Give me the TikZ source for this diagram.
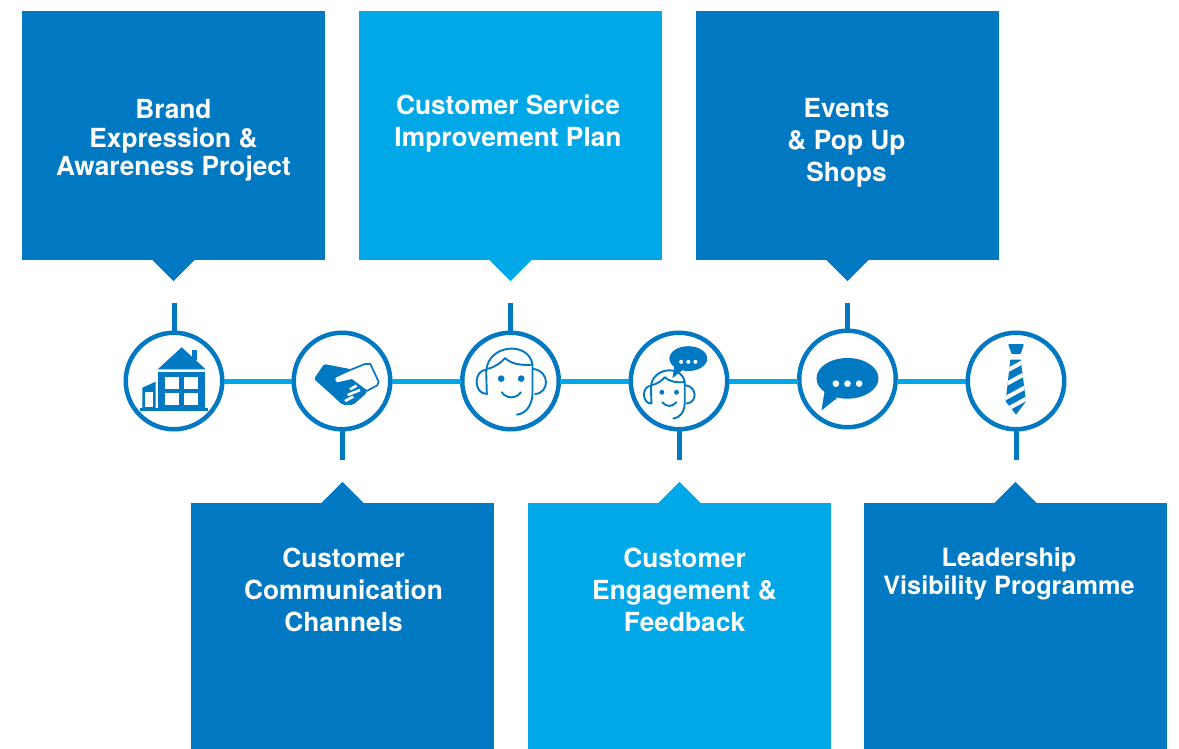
\documentclass[tikz,border=0pt]{standalone}
\usepackage{fontspec}
\setmainfont{TeX Gyre Heros}
\definecolor{DarkBlue}{HTML}{0079C2}
\definecolor{LightBlue}{HTML}{00A8E8}

\begin{document}
\begin{tikzpicture}[
          % Environment Config
          x=1pt,y=-1pt,
          BoxDark/.style={% Style for the dark callouts
            fill=DarkBlue,
            inner sep=0pt,
            minimum width=303pt
          },
          BoxLight/.style={% Style for the light callouts
            BoxDark,
            fill=LightBlue
          },
          BoxText/.style={% Style for the callout texts
            text=white,
            align=center,
            inner sep=0pt,
            font=\fontsize{26.3}{#1}\selectfont\bfseries
          },
          Hub/.style={% Style for the icon circles
            draw=DarkBlue,
            fill=white,
            circle,
            line width=4.5pt,
            inner sep=0pt,
            outer sep=1.5pt,
            minimum size=96.5pt
          },
          Link/.style={% Style for the line between circles
            LightBlue,
            line width=5pt
          },
          Stub/.style={% Style for the line to a callout
            DarkBlue,
            line width=5pt
          },
          IconLine/.style={% Style for the thin icon strokes
            draw=DarkBlue,
            line width=1.9pt,
            line cap=round,
            line join=round
          }
        ]

        \def\MyHouse(#1){% House icon
          \begin{scope}[shift={(#1)}]
            \fill[DarkBlue] (7.7,-33.7) -- (31.7,-11.7) -- (-16.3,-11.7) -- cycle;
            \fill[DarkBlue] (18.3,-31) rectangle (23.3,-21);
            \fill[DarkBlue] (-15.7,-9.3) rectangle (31,27.3);
            \fill[white] (-8.7,-4) rectangle (4.7,8.3);
            \fill[white] (10,-4) rectangle (23.7,8.3);
            \fill[white] (-8.7,12) rectangle (4.7,24);
            \fill[white] (10,12) rectangle (23.7,24);
            \fill[DarkBlue] (-34,26.7) rectangle (33.7,30);
            \fill[DarkBlue] (-31.7,6.7) -- (-18.3,0.7) -- (-18.3,27) -- (-31.7,27) -- cycle;
            \fill[white] (-29,10.7) rectangle (-20.7,26.3);
          \end{scope}
        }
        \def\MyHands(#1){% Handshake icon
          \begin{scope}[shift={(#1)},scale=0.3333]
            %===Dark hand===
            \fill[DarkBlue,rounded corners=1.5pt] (-54,-51) -- (-84,-6) -- (-16,55)
              .. controls (-4,68) and (4,72) .. (14,73)
              -- (34,71) -- (72,38) -- (74,30) -- (24,-36) -- cycle;
            %===Light hand===
            \draw[DarkBlue,fill=white,line width=1.7pt,line join=round]
              (24,-33) -- (69,-51) -- (85,-51) -- (110,2) -- (106,13) -- (74,30)
              -- (29,-3) -- (-16,7) .. controls (-24,4) and (-24,-6) .. (-21,-12) -- cycle;
            %===Fingers===
            \draw[white,line width=2.6pt] (24,25) -- (44,14)
              (17,42) -- (54,27)
              (9,60) -- (34,47);
          \end{scope}
        }
        \def\MyAgent(#1)#2{% Face with headset
          \begin{scope}[shift={(#1)},scale=#2]
            \fill[DarkBlue] (-28,-7) circle (10) (32,-7) circle (10);
            \draw[IconLine] (-26,34) .. controls (-12,54) and (17,54) .. (31,34);
            \draw[IconLine] (-71,-34) .. controls (-112,-34) and (-112,39) .. (-71,39);
            \draw[IconLine] (69,-36) .. controls (118,-30) and (118,36) .. (74,39);
            \draw[IconLine] (-71,39) -- (-73,-29) .. controls (-68,-112) and (55,-120) .. (66,-49);
            \draw[IconLine] (-71,-36) .. controls (-45,-42) and (-30,-54) .. (-16,-69)
              .. controls (0,-52) and (30,-46) .. (66,-49)
              -- (66,40) .. controls (64,75) and (45,98) .. (19,101);
          \end{scope}
        }
        \def\MyBubble(#1)#2{% Speech bubble
          \begin{scope}[shift={(#1)},scale=#2]
            \fill[DarkBlue] (0,-2) ellipse [x radius=93,y radius=61];
            \fill[DarkBlue] (-68,32) -- (-78,94) -- (-31,57) -- cycle;
            \fill[white] (-35,14) circle (10) (0,14) circle (10) (35,14) circle (10);
          \end{scope}
        }
        \def\MyTie(#1){% Striped tie
          \begin{scope}[shift={(#1)},scale=0.3333]
            \fill[DarkBlue,rounded corners=1pt] (-24,-111) -- (24,-111) -- (14,-81) -- (-13,-81) -- cycle;
            \begin{scope}
              \clip (-17,-64) -- (14,-64) -- (30,61) -- (0,101) -- (-31,61) -- cycle;
              \fill[DarkBlue] (-40,-70) rectangle (40,110);
              \draw[white,line width=4pt] (-33,-28) -- (33,-64)
                (-33,11) -- (33,-25)
                (-33,52) -- (33,16)
                (-33,88) -- (33,52);
            \end{scope}
          \end{scope}
        }

        \useasboundingbox (0,0) rectangle (1179,749);

        % Put the callouts in position
        \node[BoxDark,minimum height=249pt] (BoxA) at (173.5,135.5) {};
        \node[BoxLight,minimum height=249pt] (BoxC) at (510.5,135.5) {};
        \node[BoxDark,minimum height=249pt] (BoxE) at (847.5,135.5) {};
        \node[BoxDark,minimum height=246pt] (BoxB) at (342.5,626) {};
        \node[BoxLight,minimum height=246pt] (BoxD) at (679.5,626) {};
        \node[BoxDark,minimum height=246pt] (BoxF) at (1015.5,626) {};

        % Callout tips
        \fill[DarkBlue] (BoxA.south) ++(-21,0) -- ++(21,21) -- ++(21,-21) -- cycle;
        \fill[LightBlue] (BoxC.south) ++(-21,0) -- ++(21,21) -- ++(21,-21) -- cycle;
        \fill[DarkBlue] (BoxE.south) ++(-21,0) -- ++(21,21) -- ++(21,-21) -- cycle;
        \fill[DarkBlue] (BoxB.north) ++(-21,0) -- ++(21,-21) -- ++(21,21) -- cycle;
        \fill[LightBlue] (BoxD.north) ++(-21,0) -- ++(21,-21) -- ++(21,21) -- cycle;
        \fill[DarkBlue] (BoxF.north) ++(-21,0) -- ++(21,-21) -- ++(21,21) -- cycle;

        % Callout texts
        \node[BoxText=28.5pt] (TextA) at (173.5,140.5) {Brand\\Expression \&\\Awareness Project};
        \node[BoxText=32pt] (TextC) at (508,124) {Customer Service\\Improvement Plan};
        \node[BoxText=32pt] (TextE) at (846.5,143) {Events\\\& Pop Up\\Shops};
        \node[BoxText=32pt] (TextB) at (343.5,590) {Customer\\Communication\\Channels};
        \node[BoxText=32pt] (TextD) at (684.5,590) {Customer\\Engagement \&\\Feedback};
        \node[BoxText=29pt,scale=0.96] (TextF) at (1009,573.5) {Leadership\\Visibility Programme};

        % Put the circles in position
        \node[Hub] (HubA) at (174,381) {};
        \node[Hub] (HubB) at (342,381) {};
        \node[Hub] (HubC) at (510.5,381) {};
        \node[Hub] (HubD) at (679,381) {};
        \node[Hub] (HubE) at (847.5,379) {};
        \node[Hub] (HubF) at (1016,381) {};

        % Free ends of the lines to the callouts
        \coordinate (EndA) at (174,303);
        \coordinate (EndC) at (510.5,303);
        \coordinate (EndE) at (847.5,303);
        \coordinate (EndB) at (342,460);
        \coordinate (EndD) at (679,460);
        \coordinate (EndF) at (1016,460);

        % Draw the lines
        \draw[Link] (HubA) -- (HubB);
        \draw[Link] (HubB) -- (HubC);
        \draw[Link] (HubC) -- (HubD);
        \draw[Link] (HubD.east) -- (HubD.east -| HubE.west);
        \draw[Link] (HubE.east |- HubF.west) -- (HubF.west);
        \draw[Stub] (EndA) -- (HubA);
        \draw[Stub] (EndC) -- (HubC);
        \draw[Stub] (EndE) -- (HubE);
        \draw[Stub] (HubB) -- (EndB);
        \draw[Stub] (HubD) -- (EndD);
        \draw[Stub] (HubF) -- (EndF);

        % Put the icons in position
        \coordinate (FaceD) at (668.7,394);
        \coordinate (TalkD) at (688.3,359);
        \MyHouse(HubA)
        \MyHands(HubB)
        \MyAgent(HubC){0.3333}
        \MyAgent(FaceD){0.2433}
        \MyBubble(TalkD){0.2033}
        \MyBubble(HubE){0.3333}
        \MyTie(HubF)

        \end{tikzpicture}
\end{document}
